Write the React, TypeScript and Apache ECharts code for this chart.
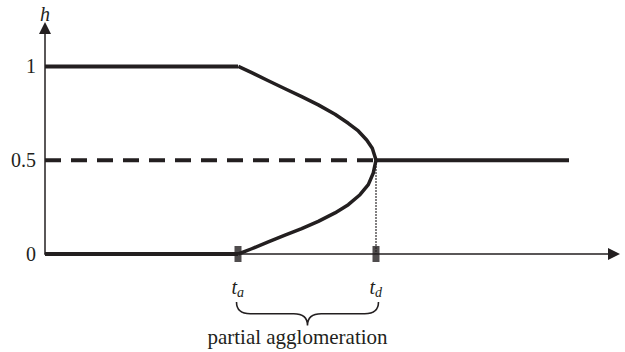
import React, { useEffect, useRef } from "react";
import * as echarts from "echarts";

// ---- data (x in arbitrary time units, h dimensionless) ----
const tickValuesH = [0, 0.5, 1];
const tA = 1.93;
const tD = 3.31;
const tEnd = 5.24;
const xMax = 5.69;
const hMax = 1.205;

const topLine = [[0, 1], [tA, 1]];
const bottomLine = [[0, 0], [tA, 0]];
const dashedHalf = [[0, 0.5], [tD, 0.5]];
const solidHalf = [[tD, 0.5], [tEnd, 0.5]];
const upperBranch = [
  [1.933, 1.0], [2.067, 0.967], [2.233, 0.924], [2.4, 0.881], [2.567, 0.839],
  [2.733, 0.795], [2.9, 0.745], [3.033, 0.697], [3.133, 0.656], [3.217, 0.608],
  [3.273, 0.564], [3.3, 0.519], [3.31, 0.5],
];
const lowerBranch = [
  [3.31, 0.5], [3.3, 0.475], [3.283, 0.432], [3.233, 0.37], [3.15, 0.316],
  [3.033, 0.263], [2.9, 0.219], [2.733, 0.174], [2.567, 0.135], [2.4, 0.1],
  [2.233, 0.064], [2.067, 0.028], [1.933, 0.0],
];
const dottedDrop = [[tD, 0.5], [tD, 0]];
const markers = [[tA, 0], [tD, 0]];
const markerLabels = ["a", "d"];
const braceLabel = "partial agglomeration";

const INK = "#231f20";
const SERIF = "Liberation Serif";

const BRACE_D =
  "M0 0 Q0 13 14 13 L58 13 Q72 13 72 26 Q72 13 86 13 L130 13 Q144 13 144 0";

echarts.graphic.registerShape("brace", echarts.graphic.extendPath(BRACE_D, {}));

export default function App() {
  const ref = useRef<HTMLDivElement>(null);
  useEffect(() => {
    document.body.style.margin = "0";
    if (!ref.current) return;
    const chart = echarts.init(ref.current, undefined, { renderer: "svg" });
    const lineSeries = (data: number[][], width: number, type: any = "solid") => ({
      type: "line",
      data,
      showSymbol: false,
      symbol: "none",
      lineStyle: { color: INK, width, type, cap: "butt", join: "round" },
      silent: true,
    });
    chart.setOption({
      animation: false,
      backgroundColor: "#ffffff",
      grid: { left: 45, right: 11, top: 28, bottom: 98 },
      xAxis: {
        type: "value",
        min: 0,
        max: xMax,
        axisLine: {
          show: true,
          symbol: ["none", "triangle"],
          symbolSize: [12, 12],
          lineStyle: { color: INK, width: 1.5 },
        },
        axisTick: { show: false },
        axisLabel: { show: false },
        splitLine: { show: false },
      },
      yAxis: {
        type: "value",
        min: 0,
        max: hMax,
        name: "h",
        nameLocation: "end",
        nameGap: 4,
        nameTextStyle: { fontFamily: SERIF, fontStyle: "italic", fontSize: 20, color: INK },
        axisLine: {
          show: true,
          symbol: ["none", "triangle"],
          symbolSize: [12, 12],
          lineStyle: { color: INK, width: 1.5 },
        },
        axisTick: { show: false },
        axisLabel: {
          customValues: tickValuesH,
          fontFamily: SERIF,
          fontSize: 20,
          color: INK,
          margin: 9,
        },
        splitLine: { show: false },
      },
      series: [
        lineSeries(topLine, 4),
        lineSeries(bottomLine, 4),
        lineSeries(dashedHalf, 4, [16, 10]),
        lineSeries(solidHalf, 4),
        lineSeries(upperBranch, 3.5),
        lineSeries(lowerBranch, 3.5),
        lineSeries(dottedDrop, 1.5, [1.5, 1.5]),
        {
          type: "scatter",
          data: markers,
          symbol: "rect",
          symbolSize: [7, 16],
          itemStyle: { color: INK },
          silent: true,
          z: 5,
        },
      ],
    });

    const pA = chart.convertToPixel({ gridIndex: 0 }, [tA, 0]) as number[];
    const pD = chart.convertToPixel({ gridIndex: 0 }, [tD, 0]) as number[];
    const labelEls: any[] = [];
    [pA, pD].forEach((p, i) => {
      labelEls.push({
        type: "text",
        x: p[0] - 1,
        y: p[1] + 43,
        style: {
          text: "t",
          fontFamily: SERIF,
          fontStyle: "italic",
          fontSize: 20,
          fill: INK,
          align: "right",
          verticalAlign: "bottom",
        },
      });
      labelEls.push({
        type: "text",
        x: p[0] - 1,
        y: p[1] + 45,
        style: {
          text: markerLabels[i],
          fontFamily: SERIF,
          fontStyle: "italic",
          fontSize: 14,
          fill: INK,
          align: "left",
          verticalAlign: "bottom",
        },
      });
    });
    const braceW = pD[0] - pA[0];
    chart.setOption({
      graphic: [
        ...labelEls,
        {
          type: "brace",
          x: pA[0] - 1.5,
          y: pA[1] + 48,
          scaleX: (braceW + 4) / 144,
          scaleY: 0.9,
          style: { stroke: INK, fill: "none", lineWidth: 1.6 },
        },
        {
          type: "text",
          x: (pA[0] + pD[0]) / 2 - 9.5,
          y: pA[1] + 83,
          style: {
            text: braceLabel,
            fontFamily: SERIF,
            fontSize: 21,
            fill: INK,
            align: "center",
            verticalAlign: "middle",
          },
        },
      ],
    });
    return () => chart.dispose();
  }, []);
  return <div ref={ref} style={{ width: 625, height: 352 }} />;
}
